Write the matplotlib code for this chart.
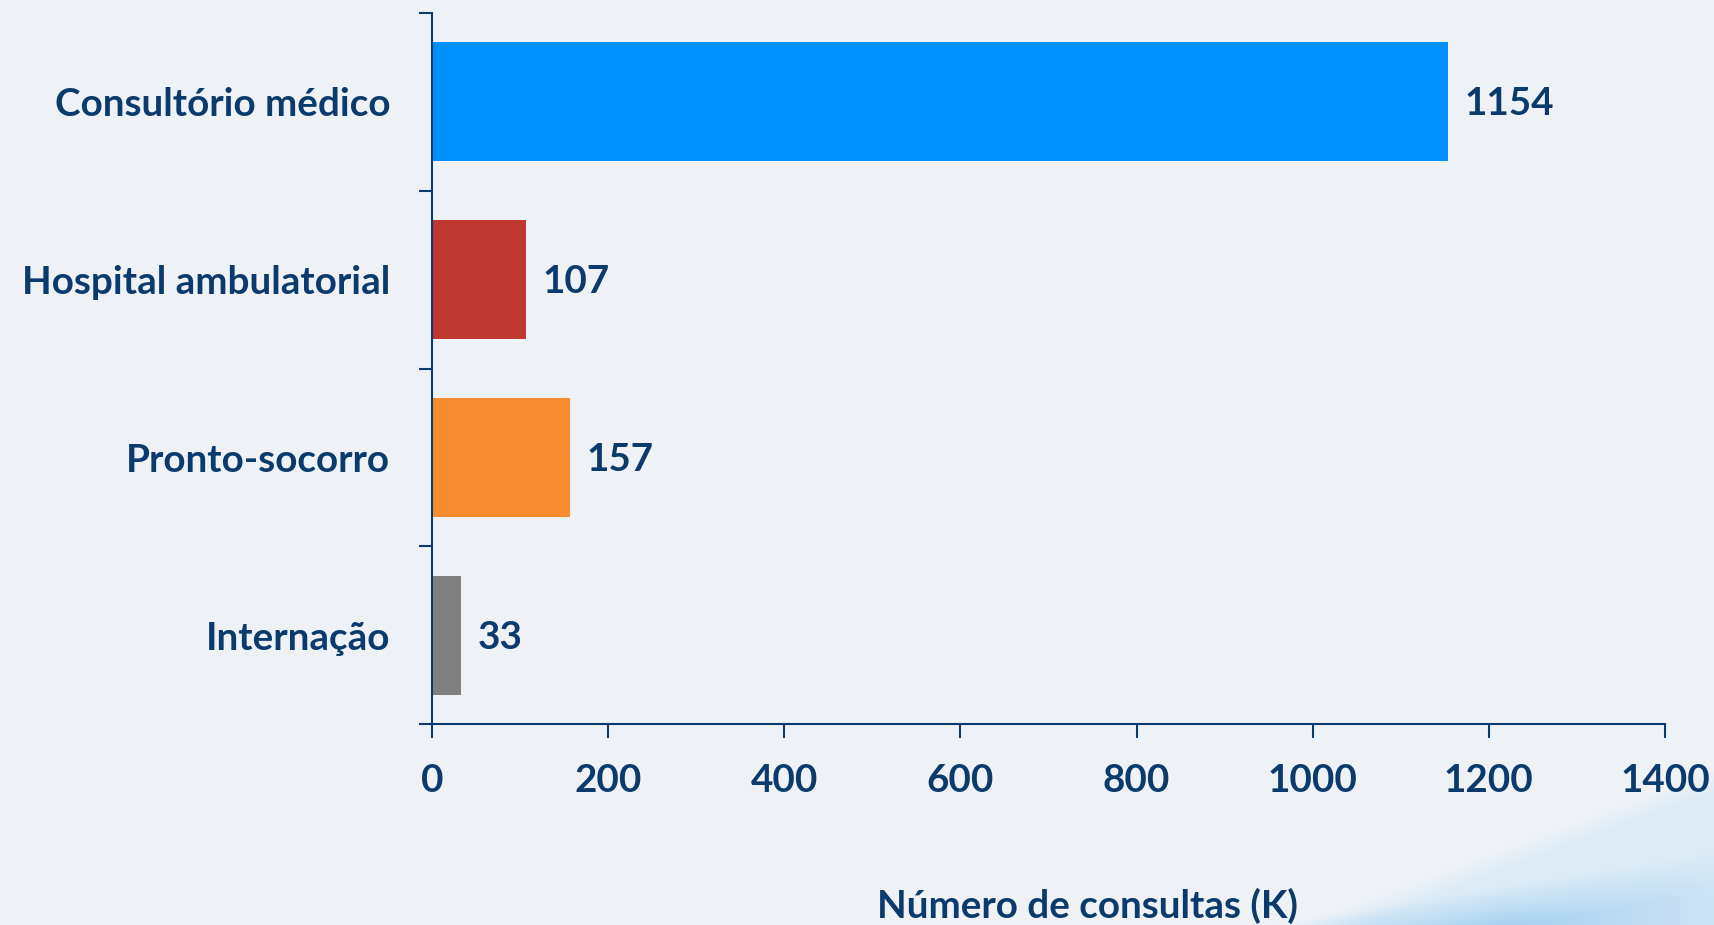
import numpy as np
import matplotlib
matplotlib.use("Agg")
import matplotlib.pyplot as plt
from matplotlib.ticker import FixedLocator

categories = ["Consultório médico", "Hospital ambulatorial", "Pronto-socorro", "Internação"]
values = [1154, 107, 157, 33]
bar_colors = ["#0091FF", "#C03931", "#F78B30", "#808080"]
x_ticks = [0, 200, 400, 600, 800, 1000, 1200, 1400]
x_label = "Número de consultas (K)"

NAVY = "#0B3A6C"
BG = "#EEF2F6"
FONT = ["Lato", "DejaVu Sans"]
FS = 27.8

W, H = 1715, 925
fig = plt.figure(figsize=(W / 100, H / 100), dpi=100, facecolor=BG)

# background with soft blue swoosh bottom-right (decoration)
bg_ax = fig.add_axes([0, 0, 1, 1], zorder=-10)
bg_ax.set_axis_off()
yy, xx = np.mgrid[0:H, 0:W].astype(float)
base = np.array(matplotlib.colors.to_rgb(BG))
light = np.array(matplotlib.colors.to_rgb("#DCEBF6"))
dark = np.array(matplotlib.colors.to_rgb("#A6D0EE"))
b1 = 924 - (xx - 1294) * 0.37
m1 = np.clip((yy - b1) / 25.0, 0, 1) * np.clip((xx - 1230) / 120.0, 0, 1)
b2 = 935 - (xx - 1200) * 0.16
m2 = np.clip((yy - b2) / 40.0, 0, 1) * np.clip((xx - 1190) / 150.0, 0, 1)
m2 *= np.clip(1.0 - (xx - 1500) / 300.0, 0.3, 1)
img = base[None, None, :] * (1 - m1[..., None]) + light[None, None, :] * m1[..., None]
img = img * (1 - m2[..., None]) + dark[None, None, :] * m2[..., None]
bg_ax.imshow(img, extent=[0, 1, 0, 1], aspect="auto", origin="upper")
bg_ax.set_xlim(0, 1)
bg_ax.set_ylim(0, 1)

left, right = 432 / W, 1665 / W
bottom, top = (H - 724) / H, (H - 13) / H
ax = fig.add_axes([left, bottom, right - left, top - bottom])
ax.set_facecolor("none")

ypos = np.arange(len(categories))
ax.barh(ypos, values, height=0.67, color=bar_colors, zorder=2)
ax.set_ylim(len(categories) - 0.5, -0.5)
ax.set_xlim(0, 1400)

ax.set_yticks(ypos)
ax.set_yticklabels(categories)
ax.yaxis.set_minor_locator(FixedLocator(np.arange(-0.5, len(categories), 1.0)))
ax.tick_params(axis="y", which="major", length=0, pad=30)
ax.tick_params(axis="y", which="minor", length=9.4, width=1.5, color=NAVY, direction="out")
ax.set_xticks(x_ticks)
ax.set_xticklabels([str(t) for t in x_ticks])
ax.tick_params(axis="x", which="major", length=10, width=1.5, color=NAVY, direction="out", pad=18)

for lab in ax.get_yticklabels() + ax.get_xticklabels():
    lab.set_fontfamily(FONT)
    lab.set_fontweight("bold")
    lab.set_fontsize(FS)
    lab.set_color(NAVY)

for s in ["top", "right"]:
    ax.spines[s].set_visible(False)
for s in ["left", "bottom"]:
    ax.spines[s].set_color(NAVY)
    ax.spines[s].set_linewidth(1.5)

for y, v in zip(ypos, values):
    ax.annotate(str(v), xy=(v, y), xytext=(12, -1.5), textcoords="offset points",
                ha="left", va="center", fontsize=FS, fontweight="bold",
                color=NAVY, family=FONT)

fig.text(1087 / W, 1 - 906 / H, x_label, ha="center", va="center",
         fontsize=FS, fontweight="bold", color=NAVY, family=FONT)

fig.savefig("out.png", dpi=100, facecolor=BG)
